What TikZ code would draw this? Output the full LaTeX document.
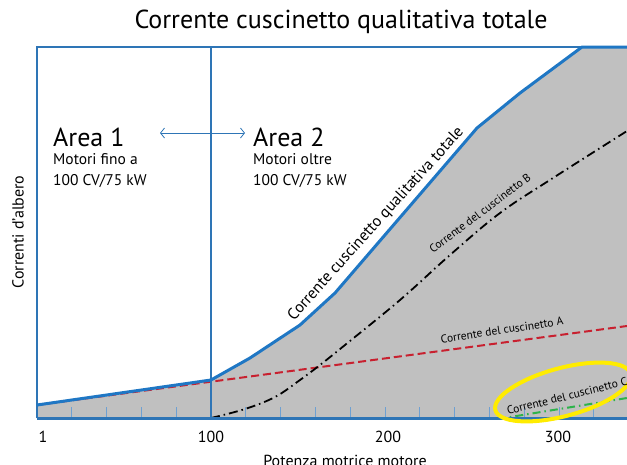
\documentclass[tikz,border=0pt]{standalone}
\usepackage{fontspec}
\setmainfont{PT Sans}
\usetikzlibrary{arrows.meta}
\definecolor{frameblue}{RGB}{46,117,182}
\definecolor{curveblue}{RGB}{31,119,196}
\definecolor{tickblue}{RGB}{110,160,210}
\definecolor{fillgray}{RGB}{192,192,192}
\definecolor{redA}{RGB}{200,32,47}
\definecolor{greenC}{RGB}{45,179,74}
\definecolor{yellowC}{RGB}{255,236,0}
\begin{document}
\begin{tikzpicture}[x=1pt,y=-1pt,
  frameline/.style={draw=frameblue,line width=1.8pt},
  totalcurve/.style={draw=curveblue,line width=3pt,line join=round},
  tickmark/.style={draw=tickblue,line width=0.9pt},
  curveA/.style={draw=redA,line width=2pt,dash pattern=on 8pt off 4pt},
  curveB/.style={draw=black,line width=1.8pt,dash pattern=on 9pt off 4pt on 1.5pt off 4pt},
  curveC/.style={draw=greenC,line width=2pt,dash pattern=on 8pt off 4pt on 1.5pt off 4pt},
  bigtxt/.style={font=\fontsize{26}{30}\selectfont,inner sep=0pt},
  midtxt/.style={font=\fontsize{15.5}{21}\selectfont,inner sep=0pt,align=left},
  smalltxt/.style={font=\fontsize{11.5}{13}\selectfont,inner sep=0pt},
  ticktxt/.style={font=\fontsize{16}{18}\selectfont,inner sep=0pt}
]
\useasboundingbox (0,0) rectangle (627,464);
% gray area
\fill[fillgray] (37,418) -- (37,405) -- (211,380) -- (250,358) -- (300,325) -- (335,293)
  -- (477,128) -- (520,93) -- (582,47) -- (627,47) -- (627,418) -- cycle;
% ticks
\foreach \k in {1,...,17} {
  \draw[tickmark] ({37+34.8*\k},418) -- ({37+34.8*\k},407);
}
% bearing currents
\coordinate (a0) at (37,405);
\coordinate (a1) at (627,326);
\draw[curveA] (a0) -- (a1);
\draw[curveB] plot[smooth,tension=0.6] coordinates {(211,418) (245,409) (275,397) (300,380) (320,365) (345,345) (400,300) (450,255) (500,213) (553,178) (627,131)};
\coordinate (c0) at (498,419);
\coordinate (c1) at (627,398);
\draw[curveC] (c0) -- (c1);
% frame
\coordinate (tl) at (37,47);
\coordinate (bl) at (37,418);
\coordinate (br) at (627,418);
\coordinate (tt) at (582,47);
\coordinate (dt) at (211,47);
\coordinate (db) at (211,418);
\draw[frameline] (bl) -- (tl) -- (tt);
\draw[frameline] (dt) -- (db);
\draw[draw=frameblue,line width=3pt] (bl) -- (br);
% total curve
\draw[totalcurve] (37,405) -- (211,380) -- (250,358) -- (300,325) -- (335,293)
  -- (477,128) -- (520,93) -- (582,47) -- (627,47);
% ellipse
\draw[yellowC,line width=4pt,rotate around={15:(563,392)}] (563,392) ellipse [x radius=70pt,y radius=24pt];
% arrow
\coordinate (arL) at (160,133);
\coordinate (arR) at (245,133);
\draw[frameblue,line width=0.8pt,{Straight Barb[length=4pt,width=10pt]}-{Straight Barb[length=4pt,width=10pt]}] (arL) -- (arR);
% texts
\node[bigtxt] (title) at (341,22) {Corrente cuscinetto qualitativa totale};
\node[bigtxt,anchor=west] (area1) at (53,137) {Area 1};
\node[midtxt,anchor=north west] (area1t) at (53,153) {Motori fino a\\100 CV/75 kW};
\node[bigtxt,anchor=west] (area2) at (253,137) {Area 2};
\node[midtxt,anchor=north west] (area2t) at (253,153) {Motori oltre\\100 CV/75 kW};
\node[font=\fontsize{16}{18}\selectfont,inner sep=0pt,rotate=48] (ltot) at (376,224) {Corrente cuscinetto qualitativa totale};
\node[smalltxt,rotate=8.5] (lA) at (502,330) {Corrente del cuscinetto A};
\node[smalltxt,rotate=37] (lB) at (480,213) {Corrente del cuscinetto B};
\node[smalltxt,rotate=14] (lC) at (567,396) {Corrente del cuscinetto C};
\node[ticktxt] (t1) at (43,437) {1};
\node[ticktxt] (t100) at (211,437) {100};
\node[ticktxt] (t200) at (388,437) {200};
\node[ticktxt] (t300) at (558,437) {300};
\node[ticktxt,anchor=base] (xlab) at (345,466) {Potenza motrice motore};
\node[ticktxt,rotate=90] (ylab) at (18,232) {Correnti d'albero};
\end{tikzpicture}
\end{document}
